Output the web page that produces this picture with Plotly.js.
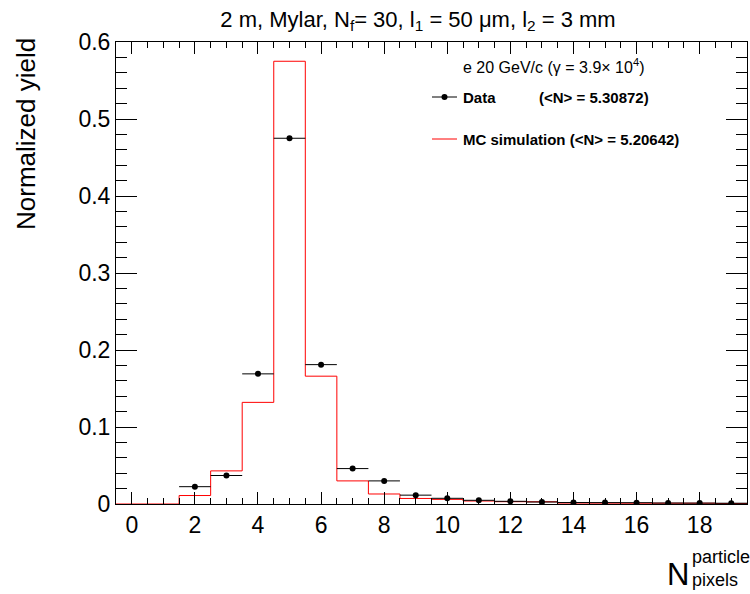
<!DOCTYPE html>
<html>
<head>
<meta charset="utf-8">
<script src="https://cdn.plot.ly/plotly-3.0.1.min.js"></script>
<style>html,body{margin:0;padding:0;background:#fff;}#chart{width:750px;height:594px;}</style>
</head>
<body>
<div id="chart"></div>
<script>
// Bin centres (number of pixels)
const binCenters = [0,1,2,3,4,5,6,7,8,9,10,11,12,13,14,15,16,17,18,19];
// Data (normalized yield), empty bins are null
const dataYield = [null,null,0.0225,0.037,0.169,0.475,0.181,0.046,0.030,0.0115,0.0074,0.0048,0.0035,0.0026,0.0019,0.0018,0.0017,0.0013,0.0012,0.0010];
// MC simulation (normalized yield)
const mcYield = [0,0,0.011,0.043,0.132,0.575,0.166,0.030,0.013,0.0072,0.0060,0.0039,0.0030,0.0029,0.0012,0.0011,0.0010,0.0010,0.0010,0.0006];
const binWidth = 1;
const xTickVals = [0,2,4,6,8,10,12,14,16,18];
const yTickVals = [0,0.1,0.2,0.3,0.4,0.5,0.6];

// step outline for the MC histogram, built from the bins
const stepX = binCenters.map(c => c - binWidth/2).concat([binCenters[binCenters.length-1] + binWidth/2]);
const stepY = mcYield.concat([mcYield[mcYield.length-1]]);

const font = 'Liberation Sans, Arial, Helvetica, sans-serif';

const traces = [
  {
    x: stepX, y: stepY, type: 'scatter', mode: 'lines',
    line: {shape: 'hv', color: '#ff0000', width: 1},
    hoverinfo: 'skip', showlegend: false
  },
  {
    x: binCenters, y: dataYield, type: 'scatter', mode: 'markers',
    marker: {color: 'black', size: 6, symbol: 'circle'},
    error_x: {type: 'constant', value: binWidth/2, width: 0, thickness: 1, color: 'black'},
    showlegend: false
  }
];

const M = {l: 116, r: 3, t: 42, b: 90};
const W = 750, H = 594;
// pixel -> paper coordinates (paper spans the plot area)
const px = v => (v - M.l) / (W - M.l - M.r);
const py = v => (H - M.b - v) / (H - M.t - M.b);

const layout = {
  width: W, height: H,
  margin: M,
  paper_bgcolor: 'white', plot_bgcolor: 'white',
  showlegend: false,
  font: {family: font, color: 'black'},
  title: {
    text: '2 m, Mylar, N<sub>f</sub>= 30, l<sub>1</sub> = 50 μm, l<sub>2</sub> = 3 mm',
    font: {family: font, size: 22, color: 'black'},
    x: 418/750, xanchor: 'center', xref: 'container',
    y: 1 - 19/594, yanchor: 'middle', yref: 'container'
  },
  xaxis: {
    range: [-0.5, 19.5],
    tickvals: xTickVals, ticktext: xTickVals.map(String),
    ticks: 'inside', ticklen: 12, tickcolor: 'black', tickwidth: 1,
    minor: {dtick: 0.5, ticks: 'inside', ticklen: 6, tickcolor: 'black', tickwidth: 1, showgrid: false},
    showline: true, linecolor: 'black', linewidth: 1, mirror: 'ticks',
    showgrid: false, zeroline: false,
    tickfont: {family: font, size: 23, color: 'black'}
  },
  yaxis: {
    range: [0, 0.6],
    tickvals: yTickVals, ticktext: yTickVals.map(v => v === 0 ? '0' : v.toFixed(1)),
    ticks: 'inside', ticklen: 21, tickcolor: 'black', tickwidth: 1,
    minor: {dtick: 0.02, ticks: 'inside', ticklen: 11, tickcolor: 'black', tickwidth: 1, showgrid: false},
    showline: true, linecolor: 'black', linewidth: 1, mirror: 'ticks',
    showgrid: false, zeroline: false,
    tickfont: {family: font, size: 23, color: 'black'}
  },
  annotations: [
    {text: 'Normalized yield', textangle: -90, xref: 'paper', yref: 'paper',
     x: px(26), y: py(134), xanchor: 'center', yanchor: 'middle', showarrow: false,
     font: {family: font, size: 26, color: 'black'}},
    {text: 'N', xref: 'paper', yref: 'paper', x: px(691), y: py(574), xanchor: 'right', yanchor: 'middle',
     showarrow: false, font: {family: font, size: 31, color: 'black'}},
    {text: 'particle', xref: 'paper', yref: 'paper', x: px(690), y: py(557), xanchor: 'left', yanchor: 'middle',
     showarrow: false, font: {family: font, size: 18, color: 'black'}},
    {text: 'pixels', xref: 'paper', yref: 'paper', x: px(690), y: py(580), xanchor: 'left', yanchor: 'middle',
     showarrow: false, font: {family: font, size: 18, color: 'black'}},
    {text: 'e 20 GeV/c (γ = 3.9× 10<sup>4</sup>)', xref: 'paper', yref: 'paper', x: px(461), y: py(66),
     xanchor: 'left', yanchor: 'middle', showarrow: false, font: {family: font, size: 16, color: 'black'}},
    {text: '<b>Data</b>', xref: 'paper', yref: 'paper', x: px(461), y: py(97),
     xanchor: 'left', yanchor: 'middle', showarrow: false, font: {family: font, size: 15, color: 'black'}},
    {text: '<b>(<N> = 5.30872)</b>', xref: 'paper', yref: 'paper', x: px(537), y: py(97),
     xanchor: 'left', yanchor: 'middle', showarrow: false, font: {family: font, size: 15, color: 'black'}},
    {text: '<b>MC simulation (<N> = 5.20642)</b>', xref: 'paper', yref: 'paper', x: px(461), y: py(139),
     xanchor: 'left', yanchor: 'middle', showarrow: false, font: {family: font, size: 15, color: 'black'}}
  ],
  shapes: [
    {type: 'line', xref: 'paper', yref: 'paper', x0: px(432), x1: px(457), y0: py(97), y1: py(97),
     line: {color: 'black', width: 1}},
    {type: 'circle', xref: 'paper', yref: 'paper', xsizemode: 'pixel', ysizemode: 'pixel',
     xanchor: px(444.5), yanchor: py(97), x0: -3, x1: 3, y0: -3, y1: 3,
     fillcolor: 'black', line: {color: 'black', width: 0}},
    {type: 'line', xref: 'paper', yref: 'paper', x0: px(432), x1: px(457), y0: py(139), y1: py(139),
     line: {color: '#ff0000', width: 1}}
  ]
};

Plotly.newPlot('chart', traces, layout, {displayModeBar: false, staticPlot: true});
</script>
</body>
</html>
